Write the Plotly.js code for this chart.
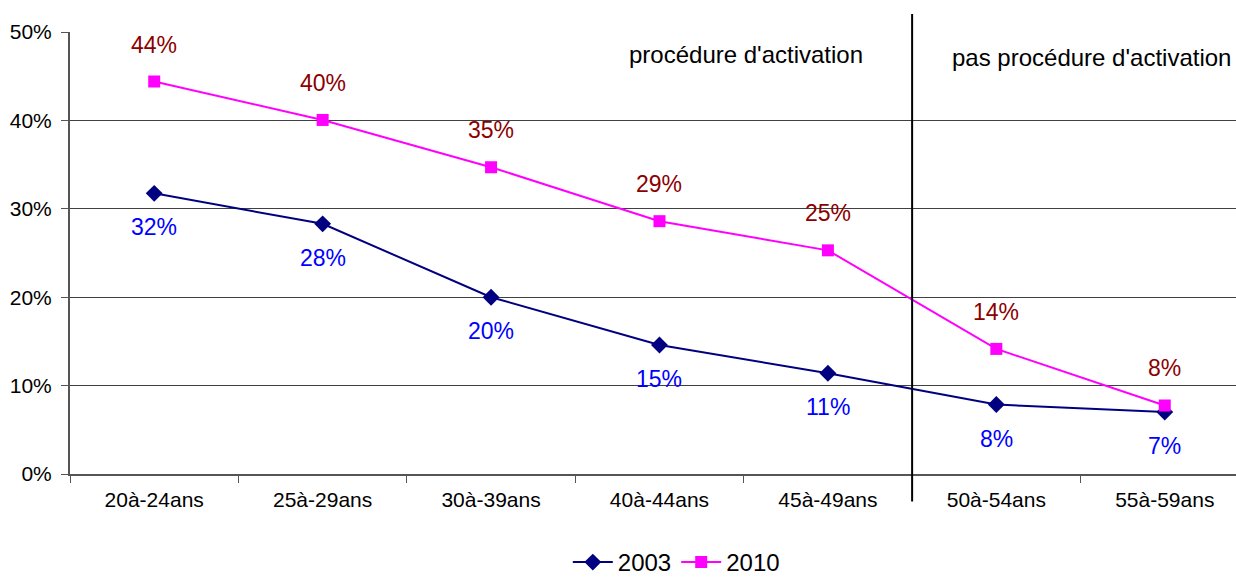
<!DOCTYPE html>
<html>
<head>
<meta charset="utf-8">
<script src="https://cdn.plot.ly/plotly-3.0.1.min.js"></script>
<style>html,body{margin:0;padding:0;background:#fff;}#chart{width:1236px;height:585px;}</style>
</head>
<body>
<div id="chart"></div>
<script>
const categories = ["20à-24ans", "25à-29ans", "30à-39ans", "40à-44ans", "45à-49ans", "50à-54ans", "55à-59ans"];
const values2003 = [31.75, 28.3, 20.0, 14.6, 11.4, 7.86, 7.0];
const values2010 = [44.4, 40.05, 34.7, 28.6, 25.3, 14.15, 7.75];
const seriesNames = ["2003", "2010"];
const yTickValues = [0, 10, 20, 30, 40, 50];
const yTickLabels = ["0%", "10%", "20%", "30%", "40%", "50%"];
const regionLabels = ["procédure d'activation", "pas procédure d'activation"];

const FONT = "'Liberation Sans', Arial, sans-serif";

const traces = [
  {
    x: categories, y: values2003, name: seriesNames[0], type: 'scatter', mode: 'lines+markers',
    line: {color: '#000080', width: 2},
    marker: {symbol: 'diamond', size: 13, color: '#000080'}
  },
  {
    x: categories, y: values2010, name: seriesNames[1], type: 'scatter', mode: 'lines+markers',
    line: {color: '#FF00FF', width: 2},
    marker: {symbol: 'square', size: 12, color: '#FF00FF'}
  }
];

const annotations = [];
categories.forEach((c, i) => {
  annotations.push({x: c, y: values2003[i], xref: 'x', yref: 'y', text: Math.round(values2003[i]) + '%',
    showarrow: false, yshift: -34, font: {family: FONT, size: 23, color: '#0000FF'}});
  annotations.push({x: c, y: values2010[i], xref: 'x', yref: 'y', text: Math.round(values2010[i]) + '%',
    showarrow: false, yshift: 37, font: {family: FONT, size: 23, color: '#8B0000'}});
});
annotations.push({x: 0.5795, y: 0.95, xref: 'paper', yref: 'paper', xanchor: 'center', yanchor: 'middle',
  text: regionLabels[0], showarrow: false, font: {family: FONT, size: 24, color: '#000'}});
annotations.push({x: 0.8762, y: 0.943, xref: 'paper', yref: 'paper', xanchor: 'center', yanchor: 'middle',
  text: regionLabels[1], showarrow: false, font: {family: FONT, size: 24, color: '#000'}});

const layout = {
  width: 1236, height: 585,
  margin: {l: 70, r: 0, t: 32, b: 110.5, pad: 0, autoexpand: false},
  paper_bgcolor: '#fff', plot_bgcolor: '#fff',
  font: {family: FONT, size: 21, color: '#000'},
  showlegend: true,
  legend: {orientation: 'h', x: 0.52, xanchor: 'center', yref: 'container', y: -0.02, yanchor: 'bottom',
    font: {family: FONT, size: 24, color: '#000'}, itemwidth: 40},
  xaxis: {
    type: 'category', range: [-0.5, 6.423], tickson: 'boundaries',
    ticks: 'outside', ticklen: 7, tickcolor: '#555', tickwidth: 1, ticklabelstandoff: 6,
    showline: true, linecolor: '#555', linewidth: 2, showgrid: false, zeroline: false,
    tickfont: {family: FONT, size: 21, color: '#000'}, fixedrange: true, automargin: false
  },
  yaxis: {
    range: [0, 50], tickvals: yTickValues, ticktext: yTickLabels,
    ticks: 'outside', ticklen: 7, tickcolor: '#555', tickwidth: 1, ticklabelstandoff: 5,
    showline: true, linecolor: '#555', linewidth: 2,
    showgrid: true, gridcolor: '#404040', gridwidth: 1, zeroline: false,
    tickfont: {family: FONT, size: 21, color: '#000'}, fixedrange: true, automargin: false
  },
  shapes: [
    {type: 'line', xref: 'x', yref: 'paper', x0: 4.5, x1: 4.5, y0: -0.062, y1: 1.041,
      line: {color: '#000', width: 2}}
  ],
  annotations: annotations
};

Plotly.newPlot('chart', traces, layout, {displayModeBar: false, staticPlot: true});
</script>
</body>
</html>
